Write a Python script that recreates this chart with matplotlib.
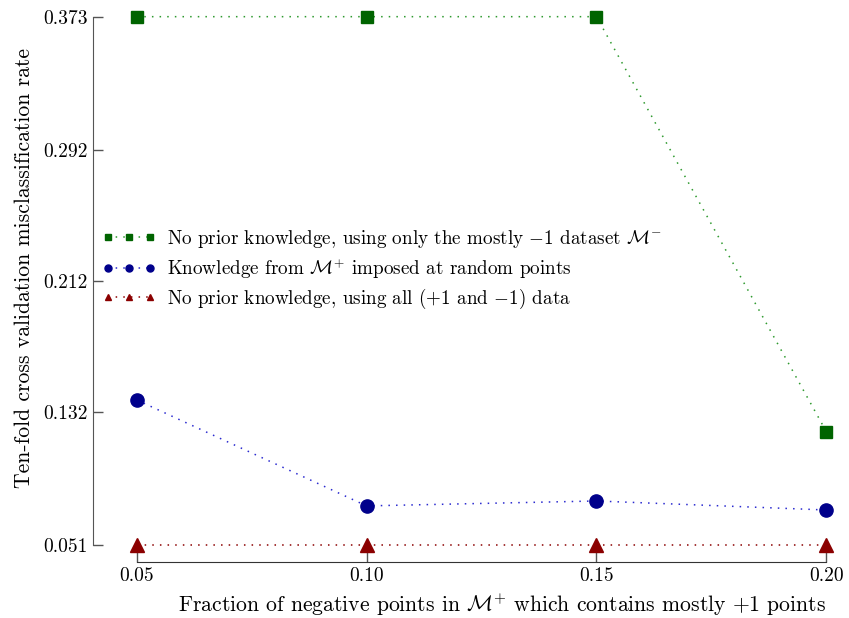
import matplotlib
matplotlib.use("Agg")
import matplotlib.pyplot as plt

plt.rcParams['font.family'] = 'serif'
plt.rcParams['font.serif'] = ['cmr10']
plt.rcParams['mathtext.fontset'] = 'cm'
plt.rcParams['axes.formatter.use_mathtext'] = True

# data
fracao = [0.05, 0.10, 0.15, 0.20]
sem_conhecimento_neg = [0.373, 0.373, 0.373, 0.120]
conhecimento_mplus = [0.1394, 0.0748, 0.0778, 0.0723]
sem_conhecimento_todos = [0.051, 0.051, 0.051, 0.051]
yticks = [0.051, 0.132, 0.212, 0.292, 0.373]
xticks = [0.05, 0.10, 0.15, 0.20]

rotulos = [
    r"No prior knowledge, using only the mostly $-1$ dataset $\mathcal{M}^{-}$",
    r"Knowledge from $\mathcal{M}^{+}$ imposed at random points",
    r"No prior knowledge, using all ($+1$ and $-1$) data",
]

fig = plt.figure(figsize=(8.49, 6.18), dpi=100)
ax = fig.add_axes([0.1095, 0.0906, 0.885, 0.901])

pontilhado = (0, (1, 4))
ax.plot(fracao, sem_conhecimento_neg, linestyle=pontilhado, color='#2e9a2e', linewidth=1.1,
        marker='s', markersize=9, markerfacecolor='#006400', markeredgecolor='#006400',
        label=rotulos[0])
ax.plot(fracao, conhecimento_mplus, linestyle=pontilhado, color='#2a2ad0', linewidth=1.1,
        marker='o', markersize=9.5, markerfacecolor='#00008b', markeredgecolor='#00008b',
        label=rotulos[1])
ax.plot(fracao, sem_conhecimento_todos, linestyle=pontilhado, color='#8b0000', linewidth=1.1,
        marker='^', markersize=9.5, markerfacecolor='#8b0000', markeredgecolor='#8b0000',
        label=rotulos[2])

ax.set_xlim(0.0405, 0.2039)
ax.set_ylim(0.0406, 0.380)

ax.set_xticks(xticks)
ax.set_xticklabels([f"{v:.2f}" for v in xticks])
ax.set_yticks(yticks)
ax.set_yticklabels([f"{v:.3f}" for v in yticks])

ax.spines['right'].set_visible(False)
ax.spines['top'].set_visible(False)
ax.spines['left'].set_bounds(yticks[0], yticks[-1])
ax.spines['bottom'].set_bounds(xticks[0], xticks[-1])
ax.spines['left'].set_color('#555555')
ax.spines['bottom'].set_color('#333333')
ax.tick_params(direction='in', length=7, width=1, labelsize=14, colors='#555555',
               labelcolor='black')

ax.set_xlabel(r"Fraction of negative points in $\mathcal{M}^{+}$ which contains mostly $+1$ points",
              fontsize=15.6)
ax.set_ylabel("Ten-fold cross validation misclassification rate", fontsize=15.6)
ax.xaxis.set_label_coords(0.545, -0.053)
ax.yaxis.set_label_coords(-0.079, 0.528)

leg = ax.legend(loc='upper left', bbox_to_anchor=(-0.0106, 0.631), frameon=False,
                numpoints=3, markerscale=0.53, fontsize=13.75, handlelength=2.8,
                handletextpad=0.58, labelspacing=0.33)

fig.savefig("out.png", dpi=100)
